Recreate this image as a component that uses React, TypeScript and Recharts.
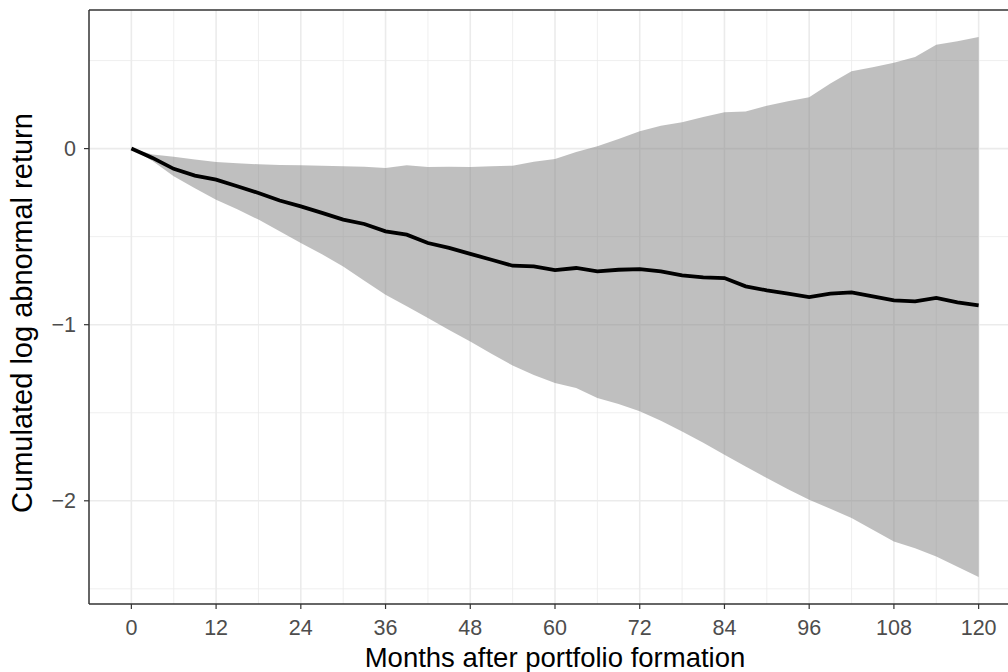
import React from 'react';
import {
    ComposedChart, Area, Line, XAxis, YAxis, CartesianGrid, ReferenceLine,
} from 'recharts';

// months after formation, read every 3 months
const months = [
    0, 3, 6, 9, 12, 15, 18, 21, 24, 27, 30, 33, 36, 39, 42, 45, 48, 51, 54, 57,
    60, 63, 66, 69, 72, 75, 78, 81, 84, 87, 90, 93, 96, 99, 102, 105, 108, 111, 114, 117, 120,
];

// cumulated log abnormal return (black line)
const meanCar = [
    0, -0.053, -0.115, -0.153, -0.176, -0.214, -0.252, -0.295, -0.328, -0.365,
    -0.403, -0.428, -0.47, -0.489, -0.536, -0.564, -0.598, -0.631, -0.665, -0.669,
    -0.69, -0.678, -0.697, -0.688, -0.684, -0.697, -0.72, -0.731, -0.735, -0.782,
    -0.805, -0.824, -0.843, -0.824, -0.816, -0.839, -0.862, -0.867, -0.848, -0.873, -0.89,
];

// confidence band
const upperCar = [
    0, -0.034, -0.047, -0.062, -0.076, -0.083, -0.089, -0.093, -0.095, -0.097,
    -0.1, -0.103, -0.11, -0.095, -0.104, -0.103, -0.104, -0.1, -0.097, -0.075,
    -0.059, -0.02, 0.013, 0.055, 0.098, 0.13, 0.149, 0.18, 0.206, 0.21,
    0.244, 0.269, 0.291, 0.37, 0.439, 0.462, 0.487, 0.52, 0.59, 0.609, 0.634,
];
const lowerCar = [
    0, -0.07, -0.157, -0.225, -0.29, -0.345, -0.403, -0.47, -0.536, -0.6,
    -0.669, -0.75, -0.83, -0.895, -0.962, -1.03, -1.095, -1.165, -1.232, -1.285,
    -1.331, -1.36, -1.416, -1.45, -1.492, -1.545, -1.606, -1.67, -1.739, -1.805,
    -1.871, -1.935, -1.994, -2.045, -2.098, -2.165, -2.231, -2.27, -2.316, -2.375, -2.433,
];

const xTicks = [0, 12, 24, 36, 48, 60, 72, 84, 96, 108, 120];
const xMinor = [6, 18, 30, 42, 54, 66, 78, 90, 102, 114];
const yTicks = [-2, -1, 0];
const yMinor = [-2.5, -1.5, -0.5, 0.5];

const X_DOMAIN: [number, number] = [-6, 126];
const Y_DOMAIN: [number, number] = [-2.586, 0.787];

const FONT = '"Liberation Sans", Arial, Helvetica, sans-serif';

const data = months.map((m, i) => ({
    m,
    car: meanCar[i],
    band: [lowerCar[i], upperCar[i]],
}));

const fmtY = (v: number) => (v < 0 ? '\u2212' + Math.abs(v) : String(v));

const XTitle = (props: any) => {
    const vb = props.viewBox || {};
    return (
        <text x={vb.x + vb.width / 2} y={vb.y + 63} textAnchor="middle"
            fontFamily={FONT} fontSize={27.5} fill="#000">
            Months after portfolio formation
        </text>
    );
};

const YTitle = (props: any) => {
    const vb = props.viewBox || {};
    const cx = 32;
    const cy = vb.y + vb.height / 2 + 6;
    return (
        <text x={cx} y={cy} textAnchor="middle" transform={`rotate(-90, ${cx}, ${cy})`}
            fontFamily={FONT} fontSize={29} fill="#000">
            Cumulated log abnormal return
        </text>
    );
};

export default function App() {
    return (
        <div style={{ position: 'absolute', left: 0, top: 0, width: 1008, height: 672, overflow: 'hidden', background: '#fff' }}>
            <ComposedChart width={1030} height={672} data={data}
                margin={{ top: 10, right: 9, bottom: 0, left: 0 }}>
                <CartesianGrid verticalValues={xMinor} horizontalValues={yMinor}
                    stroke="#ebebeb" strokeWidth={0.8} />
                <CartesianGrid verticalValues={xTicks} horizontalValues={yTicks}
                    stroke="#ebebeb" strokeWidth={1.6} />
                <XAxis dataKey="m" type="number" domain={X_DOMAIN} ticks={xTicks}
                    allowDataOverflow height={68} tickSize={5} tickMargin={11}
                    stroke="#333333" strokeWidth={1.5}
                    tick={{ fill: '#4d4d4d', fontSize: 21.5, fontFamily: FONT }}
                    tickLine={{ stroke: '#333333', strokeWidth: 1.2 }}
                    label={<XTitle />} />
                <YAxis type="number" domain={Y_DOMAIN} ticks={yTicks} allowDataOverflow
                    width={89} tickSize={5} tickMargin={8} tickFormatter={fmtY}
                    stroke="#333333" strokeWidth={1.5}
                    tick={{ fill: '#4d4d4d', fontSize: 21.5, fontFamily: FONT }}
                    tickLine={{ stroke: '#333333', strokeWidth: 1.2 }}
                    label={<YTitle />} />
                <Area dataKey="band" type="linear" stroke="none" fill="#7f7f7f"
                    fillOpacity={0.5} isAnimationActive={false} />
                <Line dataKey="car" type="linear" stroke="#000" strokeWidth={3.8}
                    dot={false} isAnimationActive={false} />
                <ReferenceLine y={Y_DOMAIN[1]} stroke="#333333" strokeWidth={1.5} />
            </ComposedChart>
        </div>
    );
}
